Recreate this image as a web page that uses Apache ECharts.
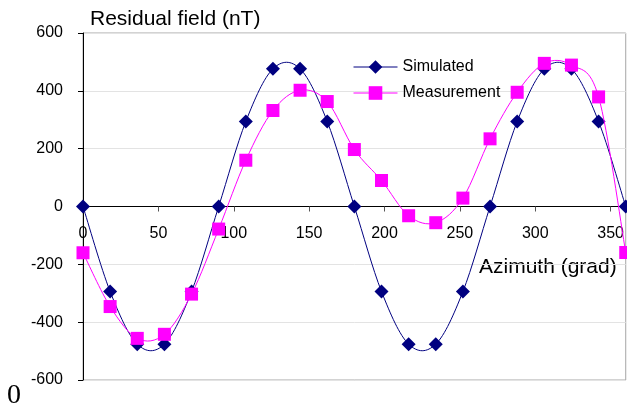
<!DOCTYPE html>
<html>
<head>
<meta charset="utf-8">
<script src="https://cdn.jsdelivr.net/npm/echarts@6/dist/echarts.min.js"></script>
<style>
  html, body { margin: 0; padding: 0; background: #fff; }
  #chart { width: 627px; height: 405px; }
</style>
</head>
<body>
<div id="chart"></div>
<script>
// 数据
var azimuth = [0, 18, 36, 54, 72, 90, 108, 126, 144, 162, 180, 198, 216, 234, 252, 270, 288, 306, 324, 342, 360];
var simulated = [0, -294, -476, -476, -294, 0, 294, 476, 476, 294, 0, -294, -476, -476, -294, 0, 294, 476, 476, 294, 0];
var measurement = [-160, -346, -456, -442, -303, -78, 160, 332, 402, 363, 197, 90, -32, -56, 29, 234, 395, 495, 489, 379, -159];

function pairs(xs, ys) {
  var out = [];
  for (var i = 0; i < xs.length; i++) {
    out.push([xs[i], ys[i]]);
  }
  return out;
}

// Excel 风格的平滑曲线 (Catmull-Rom -> Bezier), 每个数据项画一段
function curveRenderer(xs, ys, color) {
  return function (params, api) {
    var i = params.dataIndex;
    var n = xs.length;
    if (i >= n - 1) {
      return null;
    }
    var p0 = api.coord([xs[Math.max(i - 1, 0)], ys[Math.max(i - 1, 0)]]);
    var p1 = api.coord([xs[i], ys[i]]);
    var p2 = api.coord([xs[i + 1], ys[i + 1]]);
    var p3 = api.coord([xs[Math.min(i + 2, n - 1)], ys[Math.min(i + 2, n - 1)]]);
    return {
      type: 'bezierCurve',
      shape: {
        x1: p1[0], y1: p1[1],
        x2: p2[0], y2: p2[1],
        cpx1: p1[0] + (p2[0] - p0[0]) / 6,
        cpy1: p1[1] + (p2[1] - p0[1]) / 6,
        cpx2: p2[0] - (p3[0] - p1[0]) / 6,
        cpy2: p2[1] - (p3[1] - p1[1]) / 6
      },
      style: { stroke: color, fill: null, lineWidth: 1 }
    };
  };
}

var myChart = echarts.init(document.getElementById('chart'));

var font = 'Arial, "Liberation Sans", sans-serif';

var option = {
  animation: false,
  grid: {
    left: 83,
    right: 1,
    top: 33,
    bottom: 25,
    show: true,
    borderColor: '#a6a6a6',
    borderWidth: 1
  },
  legend: {
    orient: 'vertical',
    left: 353,
    top: 59,
    padding: 0,
    itemWidth: 44,
    itemHeight: 17,
    itemGap: 10,
    lineStyle: { opacity: 1, width: 1 },
    textStyle: { fontFamily: font, fontSize: 16, color: '#000' },
    data: ['Simulated', 'Measurement']
  },
  xAxis: {
    type: 'value',
    min: 0,
    max: 360,
    interval: 50,
    offset: -173.5,
    axisLine: { onZero: false, lineStyle: { color: '#000', width: 1 } },
    axisTick: { show: true, length: 5, lineStyle: { color: '#555' } },
    axisLabel: {
      margin: 19,
      fontFamily: font,
      fontSize: 16,
      color: '#000',
      showMaxLabel: false
    },
    splitLine: { show: false }
  },
  yAxis: {
    type: 'value',
    min: -600,
    max: 600,
    interval: 200,
    axisLine: { show: true, lineStyle: { color: '#000', width: 1 } },
    axisTick: { show: true, length: 5, lineStyle: { color: '#000' } },
    axisLabel: { margin: 20, fontFamily: font, fontSize: 16, color: '#000' },
    splitLine: { show: true, lineStyle: { color: '#e3e3e3', width: 1 } }
  },
  graphic: [
    {
      type: 'text',
      left: 90,
      top: 9,
      style: { text: 'Residual field (nT)', font: '21px ' + font, fill: '#000' }
    },
    {
      type: 'text',
      left: 479,
      top: 257,
      style: { text: 'Azimuth (grad)', font: '21px ' + font, fill: '#000' }
    },
    {
      type: 'text',
      left: 7,
      top: 382,
      style: { text: '0', font: '28px "Liberation Serif", "Times New Roman", serif', fill: '#000' }
    }
  ],
  series: [
    {
      name: 'Simulated curve',
      type: 'custom',
      z: 1,
      clip: false,
      data: pairs(azimuth, simulated),
      encode: { x: 0, y: 1 },
      renderItem: curveRenderer(azimuth, simulated, '#000080')
    },
    {
      name: 'Simulated',
      type: 'line',
      z: 2,
      data: pairs(azimuth, simulated),
      clip: false,
      symbol: 'diamond',
      symbolSize: 14,
      lineStyle: { color: '#000080', width: 1, opacity: 0 },
      itemStyle: { color: '#000080' }
    },
    {
      name: 'Measurement curve',
      type: 'custom',
      z: 3,
      clip: false,
      data: pairs(azimuth, measurement),
      encode: { x: 0, y: 1 },
      renderItem: curveRenderer(azimuth, measurement, '#ff00ff')
    },
    {
      name: 'Measurement',
      type: 'line',
      z: 4,
      data: pairs(azimuth, measurement),
      clip: false,
      symbol: 'rect',
      symbolSize: 13,
      lineStyle: { color: '#ff00ff', width: 1, opacity: 0 },
      itemStyle: { color: '#ff00ff' }
    }
  ]
};

myChart.setOption(option);
</script>
</body>
</html>
